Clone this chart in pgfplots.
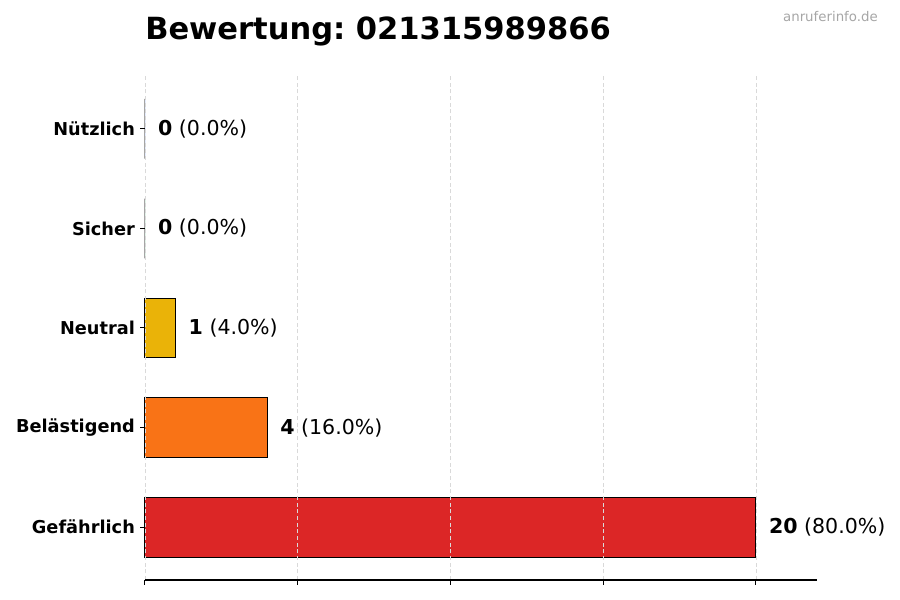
\documentclass[border=0pt]{standalone}
\usepackage{fontspec}
\setmainfont{DejaVu Sans}
\usepackage{pgfplots}
\pgfplotsset{compat=1.18}
\usepackage{pgfplotstable}
\frenchspacing

\definecolor{cRed}{HTML}{DC2626}
\definecolor{cOrange}{HTML}{F97316}
\definecolor{cYellow}{HTML}{EAB308}
\definecolor{cGreen}{HTML}{16A34A}
\definecolor{cBlue}{HTML}{2563EB}

% pos = row on the y axis, val = count, pct = share
\pgfplotstableread{
pos val pct
0 20 80.0
}\gefaehrlich
\pgfplotstableread{
pos val pct
1 4 16.0
}\belaestigend
\pgfplotstableread{
pos val pct
2 1 4.0
}\neutral
\pgfplotstableread{
pos val pct
3 0 0.0
}\sicher
\pgfplotstableread{
pos val pct
4 0 0.0
}\nuetzlich

\begin{document}
\begin{tikzpicture}
\begin{axis}[
    at={(0,0)}, anchor=south west,
    scale only axis,
    width=504pt, height=378pt,
    xmin=0, xmax=22,
    ymin=-0.53, ymax=4.53,
    xbar, bar shift=0pt, bar width=0.6,
    axis on top,
    axis x line*=bottom,
    axis y line*=left,
    y axis line style={draw=none},
    x axis line style={line width=0.75pt, -},
    xtick={0,5,10,15,20},
    xticklabels={},
    ytick={0,1,2,3,4},
    yticklabels={Gefährlich,Belästigend,Neutral,Sicher,Nützlich},
    yticklabel style={font=\fontsize{13.3pt}{15pt}\selectfont\bfseries, inner sep=0pt, xshift=-3.7pt},
    tick align=outside,
    major tick length=3.7pt,
    tick style={black, line width=0.75pt},
    xmajorgrids,
    major grid style={densely dashed, gray!30, line width=0.6pt},
    nodes near coords={\textbf{\pgfmathprintnumber[assume math mode=true]{\pgfplotspointmeta}} (\pgfmathprintnumber[fixed,precision=1,zerofill,assume math mode=true]{\pct}\%)},
    point meta=x,
    visualization depends on={\thisrow{pct} \as \pct},
    every node near coord/.append style={anchor=west, inner sep=0pt, xshift=9.5pt,
        font=\fontsize{15.4pt}{18pt}\selectfont, black},
    clip=false,
]
\addplot[draw=black, line width=0.75pt, fill=cRed] table[x=val, y=pos] {\gefaehrlich};
\addplot[draw=black, line width=0.75pt, fill=cOrange] table[x=val, y=pos] {\belaestigend};
\addplot[draw=black, line width=0.75pt, fill=cYellow] table[x=val, y=pos] {\neutral};
\addplot[draw=black, line width=0.75pt, fill=cGreen] table[x=val, y=pos] {\sicher};
\addplot[draw=black, line width=0.75pt, fill=cBlue] table[x=val, y=pos] {\nuetzlich};

\node[anchor=base west, inner sep=0pt, font=\fontsize{22.9pt}{27pt}\selectfont\bfseries]
    at ([yshift=27pt]rel axis cs:0,1) {Bewertung: 021315989866};
\node[anchor=base east, inner sep=0pt, text=gray!70, font=\fontsize{10pt}{12pt}\selectfont]
    at ([xshift=45.75pt, yshift=40.5pt]rel axis cs:1,1) {anruferinfo.de};
\end{axis}
\path[use as bounding box] (-108.75pt,-15pt) rectangle (566.25pt,435pt);
\end{tikzpicture}
\end{document}
